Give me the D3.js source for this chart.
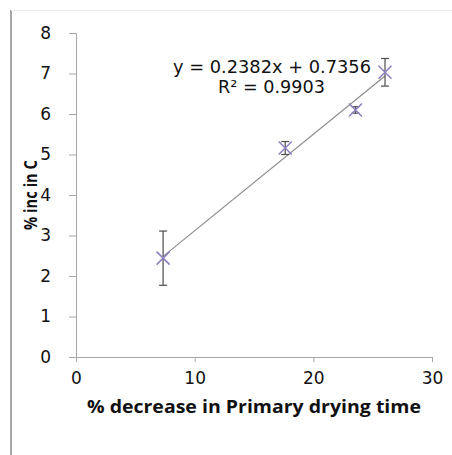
<!DOCTYPE html>
<html>
<head>
<meta charset="utf-8">
<script src="https://cdn.jsdelivr.net/npm/d3@7"></script>
<style>
  body { margin: 0; background: #fff; }
  svg { display: block; }
</style>
</head>
<body>
<div id="chart"></div>
<script>
// data
const xValues = [7.34, 17.63, 23.55, 26.04];
const yValues = [2.44, 5.16, 6.10, 7.03];
const yErrors = [0.67, 0.16, 0.08, 0.34];
const xTicks = [0, 10, 20, 30];
const yTicks = [0, 1, 2, 3, 4, 5, 6, 7, 8];
const slope = 0.2382;
const intercept = 0.7356;
const equationLabel = 'y = 0.2382x + 0.7356';
const rSquaredLabel = 'R² = 0.9903';
const xTitle = '% decrease in Primary drying time';
const yTitle = '% inc in C';

const width = 452, height = 455;
const margin = {top: 33, right: 20, bottom: 98, left: 76};

const svg = d3.select('#chart').append('svg')
    .attr('width', width)
    .attr('height', height);

// frame lines around the picture
svg.append('line')
    .attr('x1', 11).attr('x2', 11).attr('y1', 10).attr('y2', height)
    .attr('stroke', '#8a8a8a').attr('stroke-width', 1.5);
svg.append('line')
    .attr('x1', 11).attr('x2', width).attr('y1', 10.5).attr('y2', 10.5)
    .attr('stroke', '#ececec').attr('stroke-width', 1);

const x = d3.scaleLinear().domain([0, 30]).range([margin.left, 432]);
const y = d3.scaleLinear().domain([0, 8]).range([357, margin.top]);

const fontTicks = 'DejaVu Sans, Verdana, sans-serif';
const fontTitle = 'Open Sans, sans-serif';

// y axis
const yAxis = svg.append('g')
    .attr('transform', `translate(${x(0)},0)`)
    .call(d3.axisLeft(y).tickValues(yTicks).tickSize(7).tickPadding(18).tickFormat(d3.format('d')));
// x axis
const xAxis = svg.append('g')
    .attr('transform', `translate(0,${y(0)})`)
    .call(d3.axisBottom(x).tickValues(xTicks).tickSize(5).tickPadding(10).tickFormat(d3.format('d')));

[yAxis, xAxis].forEach(g => {
    g.select('.domain').attr('stroke', '#a6a6a6');
    g.selectAll('.tick line').attr('stroke', '#a6a6a6');
    g.selectAll('.tick text')
        .attr('fill', '#111')
        .attr('font-family', fontTicks)
        .attr('font-size', 17);
});

// trendline across the data range
const xExt = d3.extent(xValues);
svg.append('line')
    .attr('x1', x(xExt[0])).attr('y1', y(slope * xExt[0] + intercept))
    .attr('x2', x(xExt[1])).attr('y2', y(slope * xExt[1] + intercept))
    .attr('stroke', '#8c8c8c').attr('stroke-width', 1.2);

const points = xValues.map((v, i) => ({x: v, y: yValues[i], e: yErrors[i]}));

// error bars
const err = svg.append('g').attr('stroke', '#4d4d4d').attr('stroke-width', 1.2);
points.forEach(d => {
    err.append('line')
        .attr('x1', x(d.x)).attr('x2', x(d.x))
        .attr('y1', y(d.y + d.e)).attr('y2', y(d.y - d.e));
    [d.y + d.e, d.y - d.e].forEach(v => {
        err.append('line')
            .attr('x1', x(d.x) - 4).attr('x2', x(d.x) + 4)
            .attr('y1', y(v)).attr('y2', y(v));
    });
});

// purple x markers
const s = 6.5;
svg.append('g').selectAll('path')
    .data(points)
    .join('path')
        .attr('d', d => {
            const cx = x(d.x), cy = y(d.y);
            return `M${cx - s},${cy - s}L${cx + s},${cy + s}M${cx - s},${cy + s}L${cx + s},${cy - s}`;
        })
        .attr('stroke', '#9181c2')
        .attr('stroke-width', 1.6)
        .attr('fill', 'none');

// trend equation (text in the source is stretched wide)
svg.append('text')
    .attr('x', 173).attr('y', 73)
    .attr('textLength', 198).attr('lengthAdjust', 'spacingAndGlyphs')
    .attr('font-family', fontTicks).attr('font-size', 17)
    .attr('fill', '#111')
    .text(equationLabel);
svg.append('text')
    .attr('x', 218).attr('y', 93)
    .attr('textLength', 107).attr('lengthAdjust', 'spacingAndGlyphs')
    .attr('font-family', fontTicks).attr('font-size', 17)
    .attr('fill', '#111')
    .text(rSquaredLabel);

// axis titles
svg.append('text')
    .attr('x', 87).attr('y', 413)
    .attr('textLength', 334).attr('lengthAdjust', 'spacingAndGlyphs')
    .attr('font-family', fontTitle)
    .attr('font-weight', 'bold').attr('font-size', 17.5)
    .attr('fill', '#111')
    .text(xTitle);
svg.append('text')
    .attr('transform', 'translate(37,230) rotate(-90)')
    .attr('textLength', 70).attr('lengthAdjust', 'spacingAndGlyphs')
    .attr('font-family', fontTitle)
    .attr('font-weight', 'bold').attr('font-size', 18)
    .attr('fill', '#111')
    .text(yTitle);
</script>
</body>
</html>
